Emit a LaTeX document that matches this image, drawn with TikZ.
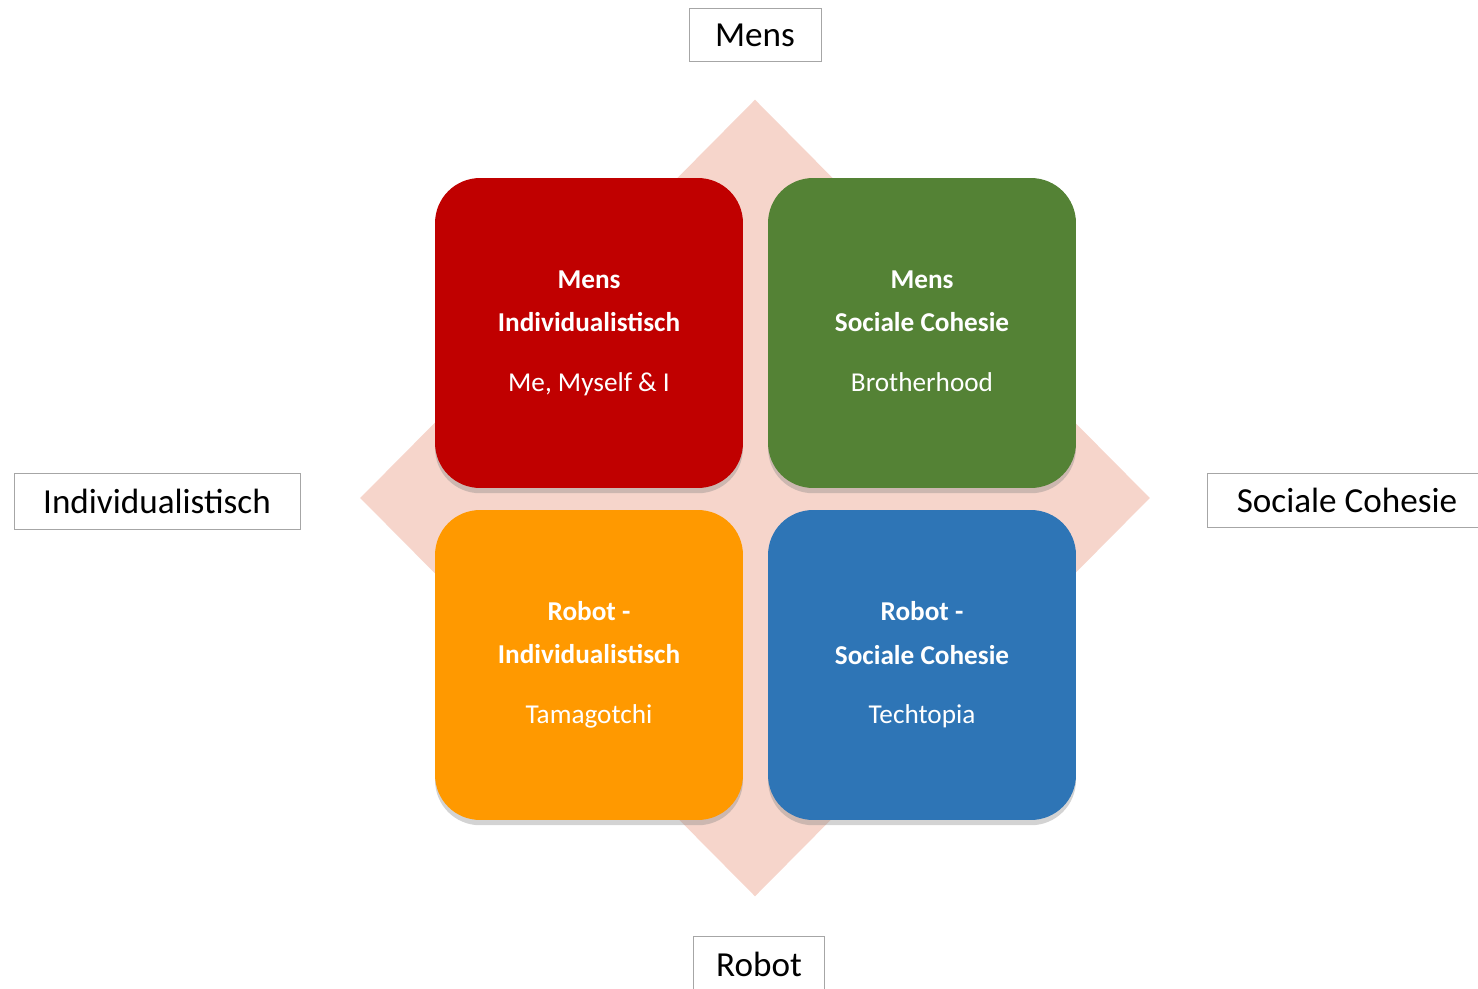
\documentclass[tikz,border=0pt]{standalone}
\usepackage{fontspec}
\setmainfont{Carlito}
\usetikzlibrary{shapes.geometric,shadows}

\definecolor{pinkbg}{RGB}{246,213,203}
\definecolor{redq}{RGB}{192,0,0}
\definecolor{greenq}{RGB}{84,130,53}
\definecolor{orangeq}{RGB}{255,153,0}
\definecolor{blueq}{RGB}{46,117,182}

\begin{document}
\begin{tikzpicture}
  [x=0.02cm,y=-0.02cm,
   quadN/.style={rectangle,rounded corners=0.9cm,minimum width=6.16cm,
     minimum height=6.2cm,text=white,align=center,
     font=\fontsize{15.5}{24.5}\selectfont,
     drop shadow={opacity=0.35,shadow xshift=0pt,shadow yshift=-3pt}},
   axisN/.style={rectangle,draw=gray!70,fill=white,
     font=\fontsize{20}{24}\selectfont,inner sep=0pt}]

  \useasboundingbox (0,0) rectangle (1478,989);
  \clip (0,0) rectangle (1478,989);

  \node[diamond,fill=pinkbg,inner sep=0pt,minimum width=15.8cm,
    minimum height=15.94cm] (ruit) at (755,498) {};

  \node[quadN,fill=redq] (mi) at (589,333)
    {\textbf{Mens}\\\textbf{Individualistisch}\\[9.5pt]Me, Myself \& I};
  \node[quadN,fill=greenq] (ms) at (922,333)
    {\textbf{Mens}\\\textbf{Sociale Cohesie}\\[9.5pt]Brotherhood\vphantom{y}};
  \node[quadN,fill=orangeq] (ri) at (589,665)
    {\textbf{Robot -}\\\textbf{Individualistisch}\\[9.5pt]Tamagotchi};
  \node[quadN,fill=blueq] (rs) at (922,665)
    {\textbf{Robot -}\\\textbf{Sociale Cohesie}\\[9.5pt]Techtopia};

  % assen
  \node[axisN,minimum width=2.64cm,minimum height=1.06cm] (mens) at (755,35) {Mens};
  \node[axisN,minimum width=2.62cm,minimum height=1.12cm] (robot) at (759,964) {Robot};
  \node[axisN,minimum width=5.72cm,minimum height=1.12cm] (indiv) at (157,501) {Individualistisch};
  \node[axisN,minimum width=5.6cm,minimum height=1.08cm] (soc) at (1347,500) {Sociale Cohesie};
\end{tikzpicture}
\end{document}
